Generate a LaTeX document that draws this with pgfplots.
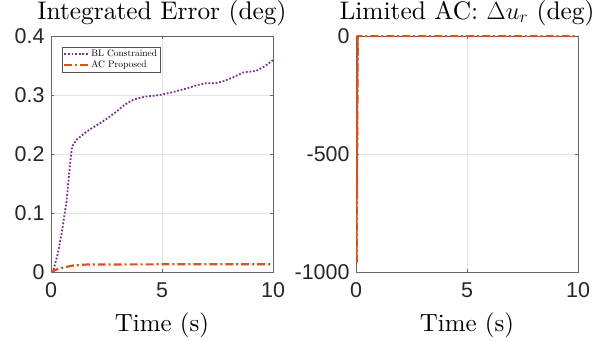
\documentclass[border=0pt]{standalone}
\usepackage{pgfplots}
\pgfplotsset{compat=1.18}
\usepackage{fontspec}
\newfontfamily\tickfont{Liberation Sans}
\newfontfamily\lmr{lmroman10-regular}[Extension=.otf]
\definecolor{mpurple}{rgb}{0.494,0.184,0.556}
\definecolor{morange}{rgb}{0.85,0.325,0.098}
\definecolor{axgray}{rgb}{0.15,0.15,0.15}
\newcommand{\titf}{\lmr\fontsize{25.5}{25.5}\selectfont}
\newcommand{\labf}{\lmr\fontsize{25}{25}\selectfont}
\pgfplotsset{
  myax/.style={
    scale only axis, width=222bp, height=236bp,
    xmin=0, xmax=10, xtick={0,5,10},
    grid=major, major grid style={gray!20, line width=0.5pt},
    axis line style={axgray!70, line width=0.6pt},
    tick style={axgray!70, line width=0.5pt},
    tick align=inside, major tick length=3pt,
    ticklabel style={font=\fontsize{21.5}{21.5}\selectfont\tickfont, text=axgray},
    xticklabel style={yshift=-7bp},
    yticklabel style={xshift=-3bp},
    /pgf/number format/assume math mode=true,
    /pgf/number format/fixed,
    /pgf/number format/1000 sep={},
    title style={yshift=1bp},
    xlabel style={yshift=-8bp},
  },
  bl/.style={mpurple, line width=1.8pt, dash pattern=on 1.8pt off 1.8pt},
  ac/.style={morange, line width=2.2pt, dash pattern=on 8pt off 3pt on 2pt off 3pt},
}
\begin{document}
\begin{tikzpicture}[x=1bp,y=1bp]
\useasboundingbox (0,0) rectangle (598,340);
\begin{axis}[myax, at={(51bp,68bp)}, anchor=south west,
  ymin=0, ymax=0.4, ytick={0,0.1,0.2,0.3,0.4},
  yticklabel style={/pgf/number format/precision=1},
  title={\titf Integrated Error (deg)},
  xlabel={\labf Time (s)},
  legend style={at={(0.05,0.955)}, anchor=north west, font=\lmr\fontsize{9.5}{10}\selectfont,
    draw=axgray!80, inner sep=1pt, row sep=-1.5pt},
  legend image code/.code={\draw[#1] (0pt,0pt) -- (24pt,0pt);},
  legend cell align=left]
\addplot[bl] coordinates {
(0,0) (0.1,0.002) (0.3,0.03) (0.5,0.07) (0.7,0.12) (0.85,0.18) (0.95,0.213) (1.15,0.224)
(1.6,0.238) (2.2,0.252) (2.6,0.262) (2.95,0.272) (3.3,0.283) (3.7,0.292)
(4.2,0.297) (4.9,0.300) (5.5,0.305) (6.1,0.311) (6.6,0.317) (7.0,0.320)
(7.4,0.320) (7.75,0.323) (8.2,0.330) (8.65,0.338) (9.25,0.341) (9.6,0.348) (10,0.359)};
\addlegendentry{BL Constrained}
\addplot[ac] coordinates {
(0,0) (0.3,0.005) (0.6,0.008) (1,0.011) (1.5,0.0125) (2,0.0128) (5,0.013) (10,0.013)};
\addlegendentry{AC Proposed}
\end{axis}
\begin{axis}[myax, at={(356bp,68bp)}, anchor=south west,
  ymin=-1000, ymax=0, ytick={-1000,-500,0},
  title={\titf Limited AC: $\Delta u_r$ (deg)},
  xlabel={\labf Time (s)}]
\addplot[ac] coordinates {
(0.03,-960) (0.05,-500) (0.08,0) (10,0)};
\addplot[morange, line width=1.6pt] coordinates {(0.03,-960) (0.06,-300) (0.08,0)};
\end{axis}
\end{tikzpicture}
\end{document}
